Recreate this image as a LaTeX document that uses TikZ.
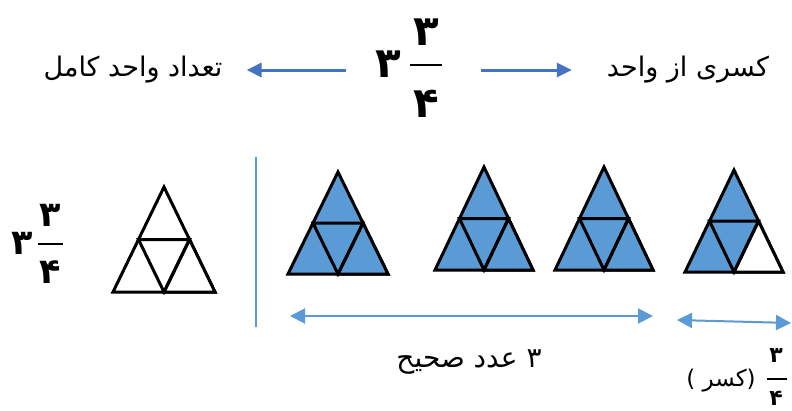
\documentclass[tikz,border=0pt]{standalone}
\usepackage{fontspec}
\newfontfamily\arabicfont[Script=Arabic]{DejaVu Sans}
\TeXXeTstate=1
\usetikzlibrary{arrows.meta,calc}
\definecolor{bleuFleche}{RGB}{68,114,196}
\definecolor{bleuTri}{RGB}{91,155,213}

\begin{document}
\begin{tikzpicture}[x=1pt, y=-1pt,
    lbl/.style={font=\arabicfont\fontsize{27}{29}\selectfont, inner sep=0pt},
    petit/.style={font=\arabicfont\fontsize{28}{30}\selectfont, inner sep=0pt},
    kasrlbl/.style={font=\arabicfont\fontsize{23}{25}\selectfont, inner sep=0pt},
    chiffre/.style={font=\arabicfont\bfseries\fontsize{42}{42}\selectfont, inner sep=0pt},
    moyen/.style={font=\arabicfont\bfseries\fontsize{35}{35}\selectfont, inner sep=0pt},
    mini/.style={font=\arabicfont\bfseries\fontsize{22}{22}\selectfont, inner sep=0pt},
    fracbar/.style={line width=2pt},
    tri/.style={draw=black, line width=3pt},
    haut/.style={-{Triangle[length=15pt,width=14pt]}, bleuFleche, line width=3pt},
    bas/.style={{Triangle[length=15pt,width=15pt]}-{Triangle[length=15pt,width=15pt]}, bleuTri, line width=2pt}
]
\useasboundingbox (0,0) rectangle (792,410);

% en-tete : 3 3/4
\node[chiffre] (entier) at (388,64) {۳};
\node[chiffre] (num) at (426,32) {۳};
\node[chiffre] (den) at (426,104) {۴};
\draw[fracbar] (410,65) -- (442,65);

\node[lbl] (entierTxt) at (133,70) {\beginR تعداد واحد کامل\endR};
\node[lbl] (fracTxt) at (688,70) {\beginR کسری از واحد\endR};

\draw[haut, shorten <=29pt] (entier.west |- entierTxt.east) -- ($(entierTxt.east)+(24,0)$);
\draw[haut, shorten <=80pt] (entier.east |- fracTxt.west) -- ($(fracTxt.west)+(-35,0)$);

% gauche : 3 3/4 et triangle vide
\node[moyen] (entierB) at (22,243) {۳};
\node[moyen] (numB) at (50,215) {۳};
\node[moyen] (denB) at (50,272) {۴};
\draw[fracbar] (38,244) -- (63,244);

\draw[bleuTri, line width=1.5pt] (256,157) -- (256,327);

% triangles
\foreach \ax/\ay/\by/\hw/\f/\g [count=\i] in {164/187/292/51/white/white, 338/172/274/50/bleuTri/bleuTri,
    484/167/270/49/bleuTri/bleuTri, 604/167/270/49/bleuTri/bleuTri, 734/170/272/49/bleuTri/white}{
  \coordinate (a\i) at (\ax,\ay);
  \coordinate (l\i) at (\ax-\hw,\by);
  \coordinate (r\i) at (\ax+\hw,\by);
  \coordinate (b\i) at (\ax,\by);
  \coordinate (ml\i) at ($(a\i)!0.5!(l\i)$);
  \coordinate (mr\i) at ($(a\i)!0.5!(r\i)$);
  \filldraw[tri, fill=\f] (a\i) -- (l\i) -- (r\i) -- cycle;
  \filldraw[tri, fill=\g] (mr\i) -- (b\i) -- (r\i) -- cycle;
  \draw[tri] (ml\i) -- (mr\i) -- (b\i) -- cycle;
}

% fleches du bas
\coordinate (s1) at (290,316);
\coordinate (s2) at (653,316);
\coordinate (s3) at (677,320);
\coordinate (s4) at (791,323);
\draw[bas] (s1) -- (s2);
\draw[bas] (s3) -- (s4);

\node[petit] (entierBas) at (469,362) {\beginR ۳ عدد صحیح\endR};
\node[kasrlbl] (kasr) at (721,381) {\beginR(کسر\ )\endR};
\node[mini] (numC) at (776,356) {۳};
\node[mini] (denC) at (776,398) {۴};
\draw[fracbar] (767,379) -- (787,379);
\end{tikzpicture}
\end{document}
